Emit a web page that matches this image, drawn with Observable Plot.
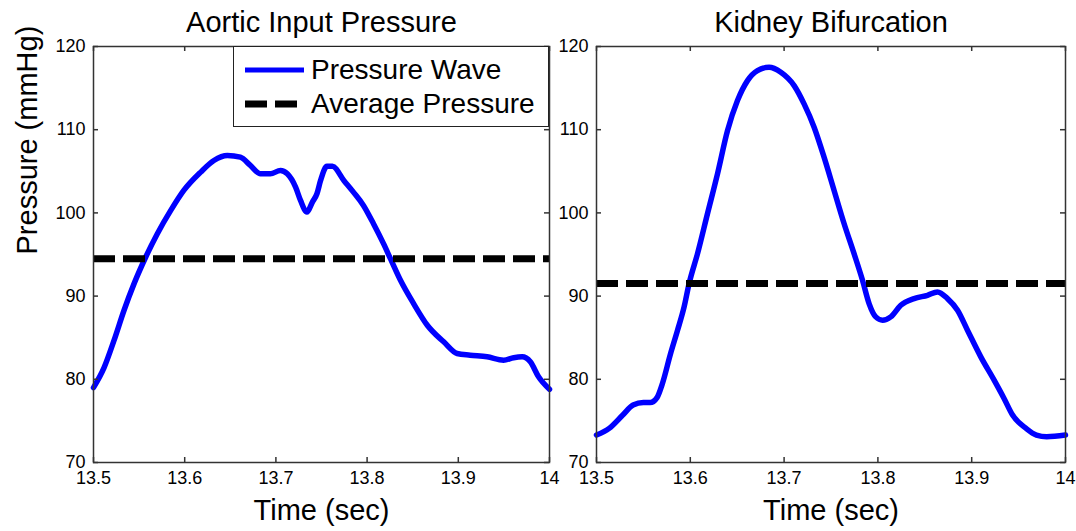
<!DOCTYPE html>
<html>
<head>
<meta charset="utf-8">
<script src="https://cdn.jsdelivr.net/npm/d3@7"></script>
<script src="https://cdn.jsdelivr.net/npm/@observablehq/plot@0.6"></script>
<style>
  body { margin: 0; background: #fff; }
  #chart { position: relative; width: 1076px; height: 531px; background: #fff; overflow: hidden;
           font-family: "Liberation Sans", Arial, sans-serif; }
  #chart > svg { position: absolute; top: 0; }
  .legend { position: absolute; left: 233px; top: 46px; width: 316px; height: 81px; box-sizing: border-box;
            border: 1.5px solid #222; background: #fff; }
  .legend svg { position: absolute; left: 0; top: 0; }
  .legend span { position: absolute; left: 77px; font-size: 28px; line-height: 28px; color: #000; white-space: nowrap; }
</style>
</head>
<body>
<div id="chart"></div>
<script>
// ---- data ----
const xTicks = [13.5, 13.6, 13.7, 13.8, 13.9, 14];
const yTicks = [70, 80, 90, 100, 110, 120];
const titles = ["Aortic Input Pressure", "Kidney Bifurcation"];
const xLabel = "Time (sec)";
const yLabel = "Pressure (mmHg)";
const legendLabels = ["Pressure Wave", "Average Pressure"];

const aorticTime = [13.5, 13.5116, 13.5226, 13.5335, 13.5445, 13.5573, 13.570, 13.5847, 13.599, 13.6175,
  13.632, 13.6468, 13.661, 13.672, 13.683, 13.694, 13.705, 13.7125, 13.7216, 13.727,
  13.734, 13.740, 13.745, 13.749, 13.756, 13.762, 13.7745, 13.785, 13.796, 13.807,
  13.818, 13.8256, 13.8366, 13.851, 13.866, 13.884, 13.8987, 13.913, 13.9316, 13.9497,
  13.9607, 13.97, 13.979, 13.988, 14.0];
const aorticPressure = [79.0, 81.4, 84.7, 88.3, 91.5, 94.7, 97.5, 100.3, 102.7, 104.9,
  106.3, 106.9, 106.7, 105.7, 104.7, 104.7, 105.1, 104.7, 103.1, 101.5,
  100.1, 101.3, 102.3, 103.9, 105.6, 105.6, 103.9, 102.5, 100.9, 98.7,
  96.3, 94.5, 91.9, 89.1, 86.5, 84.5, 83.1, 82.9, 82.7, 82.3,
  82.6, 82.7, 82.1, 80.3, 78.8];
const aorticAverage = 94.5;

const kidneyTime = [13.5, 13.5135, 13.528, 13.539, 13.550, 13.5572, 13.5645, 13.570, 13.579, 13.5864,
  13.5934, 13.5987, 13.6077, 13.6183, 13.629, 13.6397, 13.6503, 13.661, 13.6716, 13.684,
  13.6965, 13.7107, 13.7213, 13.732, 13.7426, 13.7533, 13.764, 13.7746, 13.7836, 13.7906,
  13.7977, 13.805, 13.8137, 13.8244, 13.8386, 13.8529, 13.8635, 13.8742, 13.8849, 13.8955,
  13.9097, 13.9239, 13.9345, 13.9436, 13.958, 13.969, 13.980, 14.0];
const kidneyPressure = [73.3, 74.1, 75.7, 76.9, 77.2, 77.2, 77.8, 79.4, 83.1, 85.9,
  88.7, 91.5, 95.1, 99.9, 104.7, 109.9, 113.5, 115.9, 117.1, 117.5,
  116.9, 115.3, 113.1, 110.3, 106.7, 102.7, 98.7, 95.1, 91.9, 89.1,
  87.5, 87.1, 87.5, 88.9, 89.7, 90.1, 90.5, 89.7, 88.3, 85.9,
  82.7, 79.9, 77.7, 75.7, 74.1, 73.3, 73.1, 73.3];
const kidneyAverage = 91.5;

// ---- drawing ----
const FONT = "'Liberation Sans', Arial, Helvetica, sans-serif";
const waveColor = "#0000ff";

function panel({time, pressure, average, title, width, marginLeft, yLabelText}) {
  const height = 531, marginTop = 46, marginBottom = 69, marginRight = 11, tick = 5;
  const fw = width - marginLeft - marginRight;
  const fh = height - marginTop - marginBottom;
  const data = time.map((t, i) => ({t, p: pressure[i]}));
  const axisColor = "#333";
  const marks = [
    Plot.line(data, {x: "t", y: "p", curve: "monotone-x", stroke: waveColor, strokeWidth: 5.5, strokeLinejoin: "round", strokeLinecap: "round"}),
    Plot.ruleY([average], {stroke: "#000", strokeWidth: 7, strokeDasharray: "22,8"}),
    Plot.tickX(xTicks, {x: d => d, insetTop: fh - tick, stroke: axisColor, strokeWidth: 1.5}),
    Plot.tickX(xTicks, {x: d => d, insetBottom: fh - tick, stroke: axisColor, strokeWidth: 1.5}),
    Plot.tickY(yTicks, {y: d => d, insetRight: fw - tick, stroke: axisColor, strokeWidth: 1.5}),
    Plot.tickY(yTicks, {y: d => d, insetLeft: fw - tick, stroke: axisColor, strokeWidth: 1.5}),
    Plot.frame({stroke: axisColor, strokeWidth: 1.5}),
    Plot.axisX({ticks: xTicks, tickSize: 0, tickPadding: 9, tickFormat: d => String(d), label: null, fontSize: 18}),
    Plot.axisY({ticks: yTicks, tickSize: 0, tickPadding: 8, tickFormat: d => String(d), label: null, fontSize: 18}),
    Plot.text([title], {text: d => d, frameAnchor: "top", lineAnchor: "middle", dy: -24, fontSize: 29, fill: "#000"}),
    Plot.text([xLabel], {text: d => d, frameAnchor: "bottom", lineAnchor: "middle", dy: 48, fontSize: 29, fill: "#000"})
  ];
  if (yLabelText) {
    marks.push(Plot.text([yLabelText], {text: d => d, frameAnchor: "left", lineAnchor: "middle", dx: -66, rotate: -90, fontSize: 29, fill: "#000"}));
  }
  return Plot.plot({
    width, height, marginTop, marginBottom, marginLeft, marginRight,
    style: {background: "transparent", fontFamily: FONT, fontSize: "18px", color: "#000", overflow: "visible"},
    x: {domain: [13.5, 14]},
    y: {domain: [70, 120]},
    marks
  });
}

const chart = document.getElementById("chart");
const left = panel({time: aorticTime, pressure: aorticPressure, average: aorticAverage,
  title: titles[0], width: 560, marginLeft: 93, yLabelText: yLabel});
left.style.left = "0px";
const right = panel({time: kidneyTime, pressure: kidneyPressure, average: kidneyAverage,
  title: titles[1], width: 536, marginLeft: 56, yLabelText: null});
right.style.left = "540px";
chart.appendChild(left);
chart.appendChild(right);

// legend (HTML overlay on the left panel)
const legend = document.createElement("div");
legend.className = "legend";
const ns = "http://www.w3.org/2000/svg";
const lsvg = document.createElementNS(ns, "svg");
lsvg.setAttribute("width", 316); lsvg.setAttribute("height", 81);
const samples = [
  {stroke: waveColor, width: 5, dash: null, x2: 70},
  {stroke: "#000", width: 7, dash: "22,8", x2: 63}
];
const rowY = [23, 57];
samples.forEach((s, i) => {
  const l = document.createElementNS(ns, "line");
  l.setAttribute("x1", 11); l.setAttribute("x2", s.x2);
  l.setAttribute("y1", rowY[i]); l.setAttribute("y2", rowY[i]);
  l.setAttribute("stroke", s.stroke); l.setAttribute("stroke-width", s.width);
  if (s.dash) l.setAttribute("stroke-dasharray", s.dash);
  lsvg.appendChild(l);
  const span = document.createElement("span");
  span.textContent = legendLabels[i];
  span.style.top = (rowY[i] - 14) + "px";
  legend.appendChild(span);
});
legend.insertBefore(lsvg, legend.firstChild);
chart.appendChild(legend);
</script>
</body>
</html>
